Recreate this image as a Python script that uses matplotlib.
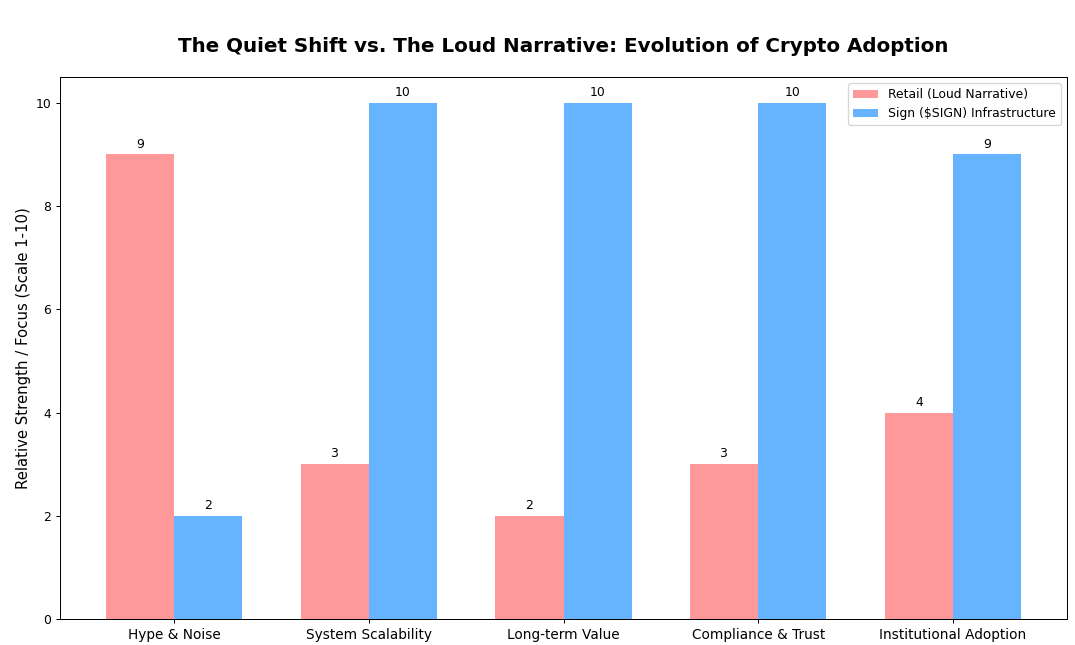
import matplotlib
matplotlib.use('Agg')
import matplotlib.pyplot as plt
import numpy as np

categories = ['Hype & Noise', 'System Scalability', 'Long-term Value',
              'Compliance & Trust', 'Institutional Adoption']
retail = [9, 3, 2, 3, 4]
sign = [2, 10, 10, 10, 9]

x = np.arange(len(categories))
width = 0.35

fig, ax = plt.subplots(figsize=(12, 7.2), dpi=1075 / 12)

b1 = ax.bar(x - width / 2, retail, width, label='Retail (Loud Narrative)', color='#ff9999')
b2 = ax.bar(x + width / 2, sign, width, label='Sign ($SIGN) Infrastructure', color='#66b3ff')

ax.set_ylabel('Relative Strength / Focus (Scale 1-10)', fontsize=12)
ax.set_title('The Quiet Shift vs. The Loud Narrative: Evolution of Crypto Adoption',
             fontsize=16, fontweight='bold', pad=20)
ax.set_xticks(x)
ax.set_xticklabels(categories, fontsize=11)
ax.tick_params(axis='y', labelsize=10)
ax.legend(fontsize=10)

ax.bar_label(b1, padding=3, fontsize=10)
ax.bar_label(b2, padding=3, fontsize=10)

plt.subplots_adjust(left=0.0558, right=0.9926, top=0.8806, bottom=0.0403)
plt.savefig('out.png')
